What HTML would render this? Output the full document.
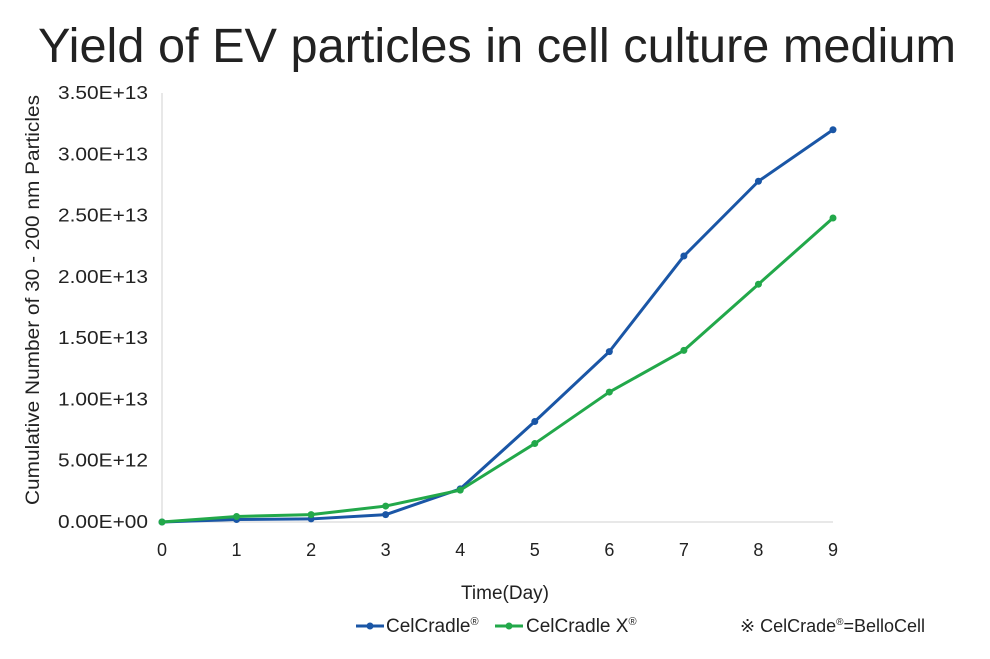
<!DOCTYPE html>
<html><head><meta charset="utf-8"><style>
html,body{margin:0;padding:0;background:#fff;}
body{width:990px;height:654px;overflow:hidden;font-family:"Liberation Sans",sans-serif;}
</style></head><body>
<svg id="chart" width="990" height="654" xmlns="http://www.w3.org/2000/svg">
<text x="38" y="62" textLength="918" lengthAdjust="spacingAndGlyphs" font-size="48" fill="#222">Yield of EV particles in cell culture medium</text>
<g id="grid"></g><g id="axes"></g><g id="series"></g>
<text x="505" y="599" text-anchor="middle" font-size="19" fill="#222">Time(Day)</text>
<text transform="translate(39,300) rotate(-90)" text-anchor="middle" textLength="410" lengthAdjust="spacingAndGlyphs" font-size="19" fill="#222">Cumulative Number of 30 - 200 nm Particles</text>
<g>
<g>
<line x1="356" y1="626" x2="384" y2="626" stroke="#1a56a6" stroke-width="3"/><circle cx="370" cy="626" r="3.5" fill="#1a56a6"/>
<text x="386" y="632" font-size="19" fill="#222">CelCradle<tspan font-size="11" dy="-7">®</tspan></text></g>
<g>
<line x1="495" y1="626" x2="523" y2="626" stroke="#22a84a" stroke-width="3"/><circle cx="509" cy="626" r="3.5" fill="#22a84a"/>
<text x="526" y="632" font-size="19" fill="#222">CelCradle X<tspan font-size="11" dy="-7">®</tspan></text></g>
</g>
<text x="740" y="632" font-size="18" fill="#222">※ CelCrade<tspan font-size="10" dy="-7">®</tspan><tspan dy="7">=BelloCell</tspan></text>
</svg>
<script>
const days=[0,1,2,3,4,5,6,7,8,9];
const celCradle=[0,0.02e13,0.025e13,0.06e13,0.27e13,0.82e13,1.39e13,2.17e13,2.78e13,3.2e13];
const celCradleX=[0,0.045e13,0.06e13,0.13e13,0.26e13,0.64e13,1.06e13,1.40e13,1.94e13,2.48e13];
const yTicks=[0,0.5e13,1e13,1.5e13,2e13,2.5e13,3e13,3.5e13];
const yTickLabels=["0.00E+00","5.00E+12","1.00E+13","1.50E+13","2.00E+13","2.50E+13","3.00E+13","3.50E+13"];
const NS="http://www.w3.org/2000/svg";
const X0=162,X1=833,Y0=522,Y1=93;
const xs=d=>X0+(d-0)/(9-0)*(X1-X0);
const ys=v=>Y0-v/3.5e13*(Y0-Y1);
function mk(tag,attrs,parent){const e=document.createElementNS(NS,tag);for(const k in attrs)e.setAttribute(k,attrs[k]);parent.appendChild(e);return e;}
const axes=document.getElementById('axes');
let a=mk('line',{x1:X0,y1:Y1,x2:X0,y2:Y0,stroke:'#d0d0d0','stroke-width':1},axes);


a=mk('line',{x1:X0,y1:Y0,x2:X1,y2:Y0,stroke:'#d0d0d0','stroke-width':1},axes);


yTicks.forEach((v,i)=>{const t=mk('text',{x:58,y:ys(v)+6,textLength:90,lengthAdjust:'spacingAndGlyphs','font-size':18,fill:'#222'},axes);t.textContent=yTickLabels[i];

});
days.forEach(d=>{const t=mk('text',{x:xs(d),y:556,'text-anchor':'middle','font-size':18,fill:'#222'},axes);t.textContent=d;

});
const ser=document.getElementById('series');
function draw(vals,color,name){
 const p=mk('polyline',{points:days.map((d,i)=>xs(d)+','+ys(vals[i])).join(' '),fill:'none',stroke:color,'stroke-width':3,'stroke-linejoin':'round'},ser);
 
 
 days.forEach((d,i)=>{const c=mk('circle',{cx:xs(d),cy:ys(vals[i]),r:3.5,fill:color},ser);
 
 });
}
draw(celCradle,'#1a56a6','celcradle');
draw(celCradleX,'#22a84a','celcradle-x');
</script>
</body></html>
